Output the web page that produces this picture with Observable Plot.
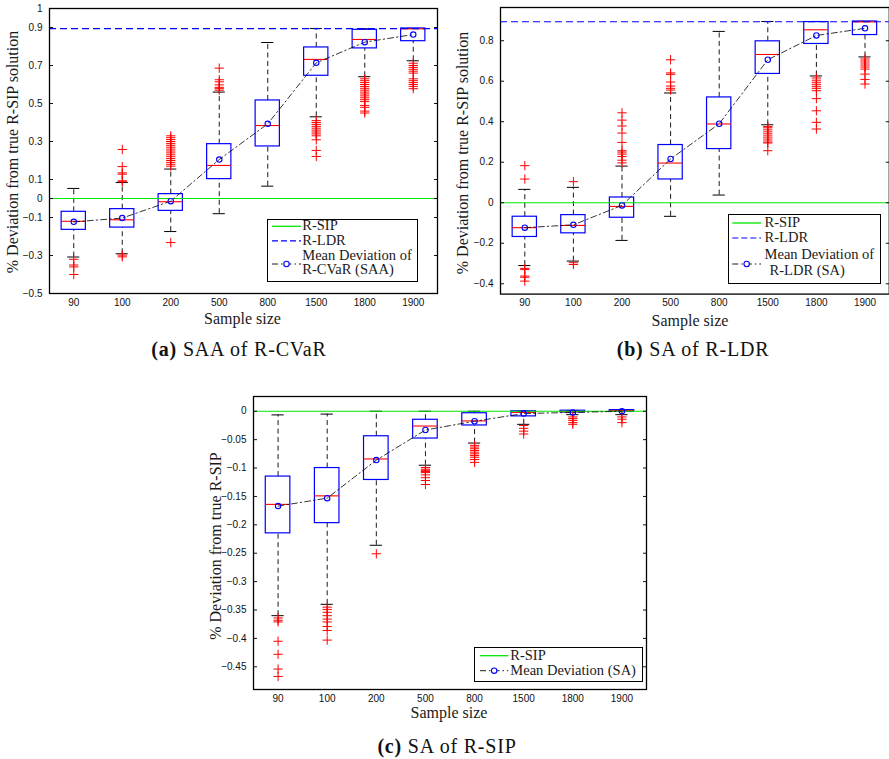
<!DOCTYPE html>
<html><head><meta charset="utf-8">
<script src="https://cdn.jsdelivr.net/npm/d3@7"></script>
<script src="https://cdn.jsdelivr.net/npm/@observablehq/plot@0.6"></script>
<style>
body{margin:0;background:#fff;}
#root{position:relative;width:889px;height:759px;overflow:hidden;font-family:"Liberation Serif","DejaVu Serif",serif;color:#1a1a1a;background:#fff;}
.ylab{position:absolute;white-space:nowrap;font-size:16px;line-height:16px;transform:translate(-50%,-50%) rotate(-90deg);}
.xlab{position:absolute;white-space:nowrap;font-size:16px;line-height:16px;transform:translate(-50%,-50%);}
.cap{position:absolute;white-space:nowrap;font-size:20px;line-height:20px;letter-spacing:0.8px;transform:translate(-50%,-50%);color:#111;}
.legend{position:absolute;box-sizing:border-box;border:1.4px solid #000;background:#fff;}
.legend .t{position:absolute;white-space:nowrap;font-size:14.5px;line-height:13px;}
</style></head><body><div id="root"></div>
<script>
// ---------- data ----------
const sampleSizes = ["90","100","200","500","800","1500","1800","1900"];
const sipLevel = [0];
const ldrLevel = [0.894];

// (a) SAA of R-CVaR
const aHi   = [0.053, 0.084, 0.155, 0.56, 0.821, 0.895, 0.893, 0.895];
const aQ3   = [-0.07, -0.056, 0.023, 0.286, 0.516, 0.795, 0.888, 0.895];
const aMed  = [-0.12, -0.112, -0.017, 0.174, 0.384, 0.732, 0.837, 0.893];
const aQ1   = [-0.165, -0.153, -0.065, 0.102, 0.274, 0.646, 0.79, 0.828];
const aLo   = [-0.308, -0.291, -0.174, -0.08, 0.065, 0.43, 0.641, 0.725];
const aMean = [-0.123, -0.103, -0.014, 0.205, 0.393, 0.714, 0.823, 0.863];
const aOut = [
  [-0.32, -0.35, -0.36, -0.40],
  [0.258, 0.168, 0.135, 0.128, 0.093, 0.088, -0.298, -0.307],
  [0.33,0.32,0.31,0.30,0.29,0.28,0.27,0.26,0.25,0.24,0.23,0.22,0.21,0.20,0.19,0.18,0.17,-0.232],
  [0.686, 0.625, 0.614, 0.598, 0.585, 0.578, 0.57],
  [],
  [0.41,0.40,0.39,0.38,0.37,0.36,0.35,0.34,0.33,0.309,0.253,0.221],
  [0.63,0.62,0.61,0.60,0.59,0.58,0.57,0.56,0.55,0.54,0.53,0.52,0.51,0.49,0.48,0.46,0.45],
  [0.712,0.70,0.69,0.68,0.67,0.66,0.63,0.62,0.61,0.60,0.59,0.578]
];
const aTicks = [1, 0.9, 0.7, 0.5, 0.3, 0.1, 0, -0.1, -0.3, -0.5];

// (b) SA of R-LDR
const bHi   = [0.066, 0.076, 0.181, 0.542, 0.846, 0.895, 0.895, 0.895];
const bQ3   = [-0.069, -0.061, 0.026, 0.285, 0.52, 0.797, 0.892, 0.895];
const bMed  = [-0.123, -0.112, -0.018, 0.196, 0.389, 0.732, 0.854, 0.893];
const bQ1   = [-0.169, -0.151, -0.074, 0.115, 0.265, 0.636, 0.784, 0.828];
const bLo   = [-0.31, -0.288, -0.186, -0.067, 0.038, 0.385, 0.626, 0.72];
const bMean = [-0.123, -0.109, -0.013, 0.216, 0.39, 0.706, 0.826, 0.861];
const bOut = [
  [0.183, 0.117, -0.324, -0.33, -0.362, -0.368, -0.387],
  [0.104, -0.296, -0.305],
  [0.444,0.408,0.379,0.344,0.298,0.257,0.25,0.24,0.228,0.21,0.197],
  [0.706,0.641,0.634,0.596,0.576,0.565,0.556],
  [],
  [0.376,0.37,0.36,0.35,0.34,0.33,0.32,0.31,0.30,0.295,0.257],
  [0.616,0.605,0.595,0.585,0.575,0.565,0.553,0.514,0.454,0.397,0.364],
  [0.71,0.70,0.69,0.68,0.67,0.66,0.635,0.609,0.586]
];
const bTicks = [0.8, 0.6, 0.4, 0.2, 0, -0.2, -0.4];

// (c) SA of R-SIP
const cHi   = [-0.0064, -0.005, 0, 0, 0, 0, 0.001, 0.002];
const cQ3   = [-0.115, -0.1, -0.044, -0.015, -0.0035, 0, 0.001, 0.002];
const cMed  = [-0.164, -0.149, -0.084, -0.026, -0.017, -0.002, -0.0005, 0.001];
const cQ1   = [-0.215, -0.197, -0.121, -0.048, -0.025, -0.009, -0.002, -0.001];
const cLo   = [-0.36, -0.34, -0.236, -0.095, -0.056, -0.023, -0.006, -0.006];
const cMean = [-0.167, -0.153, -0.086, -0.033, -0.0176, -0.004, -0.002, 0];
const cOut = [
  [-0.364,-0.368,-0.371,-0.405,-0.428,-0.454,-0.467],
  [-0.345,-0.349,-0.354,-0.36,-0.366,-0.371,-0.379,-0.386,-0.403],
  [-0.251],
  [-0.099,-0.102,-0.104,-0.106,-0.108,-0.112,-0.117,-0.122,-0.129],
  [-0.06,-0.063,-0.066,-0.069,-0.072,-0.075,-0.078,-0.081,-0.085,-0.09],
  [-0.025,-0.03,-0.035,-0.04],
  [-0.01,-0.013,-0.016,-0.02,-0.023],
  [-0.01,-0.014,-0.02]
];
const cTicks = [0, -0.05, -0.1, -0.15, -0.2, -0.25, -0.3, -0.35, -0.4, -0.45];

// ---------- drawing ----------
const root = document.getElementById("root");
const fmt = d3.format("");

function panel(cfg) {
  const rows = sampleSizes.map((s, i) => ({size: s, hi: cfg.hi[i], q3: cfg.q3[i], med: cfg.med[i], q1: cfg.q1[i], lo: cfg.lo[i], mean: cfg.mean[i]}));
  const outs = sampleSizes.flatMap((s, i) => cfg.out[i].map(v => ({size: s, v})));
  const mL = 45, mR = 8, mT = 8, mB = 24;
  const W = cfg.R - cfg.L, H = cfg.B - cfg.T;
  const bw = W / sampleSizes.length;
  const dash = {stroke: "#000", strokeWidth: 0.9, strokeDasharray: "5,3.5"};
  const cap = {stroke: "#000", strokeWidth: 1, insetLeft: bw * 3 / 8, insetRight: bw * 3 / 8};
  const svg = Plot.plot({
    width: W + mL + mR, height: H + mT + mB,
    marginLeft: mL, marginRight: mR, marginTop: mT, marginBottom: mB,
    style: {fontFamily: "Liberation Sans, Arial, sans-serif", fontSize: "10px", color: "#111", background: "transparent", overflow: "visible"},
    x: {type: "band", domain: sampleSizes, padding: 0, round: false},
    y: {domain: cfg.domain},
    marks: [
      Plot.ruleX(rows, {x: "size", y1: "q3", y2: "hi", ...dash}),
      Plot.ruleX(rows, {x: "size", y1: "lo", y2: "q1", ...dash}),
      Plot.tickY(rows, {x: "size", y: "hi", ...cap}),
      Plot.tickY(rows, {x: "size", y: "lo", ...cap}),
      Plot.barY(rows, {x: "size", y1: "q1", y2: "q3", fill: "none", stroke: "#0000ff", strokeWidth: 1.2, insetLeft: bw / 4, insetRight: bw / 4}),
      Plot.tickY(rows, {x: "size", y: "med", stroke: "#ff0000", strokeWidth: 1.1, insetLeft: bw / 4, insetRight: bw / 4}),
      Plot.dot(outs, {x: "size", y: "v", symbol: "plus", r: 3.1, stroke: "#ff0000", strokeWidth: 1}),
      Plot.ruleY(sipLevel, {stroke: "#00e800", strokeWidth: 1.2}),
      cfg.ldr ? Plot.ruleY(ldrLevel, {stroke: "#0000ff", strokeWidth: 1.1, strokeDasharray: "7,4"}) : null,
      Plot.line(rows, {x: "size", y: "mean", stroke: "#000", strokeWidth: 0.8, strokeDasharray: "6,3,1.5,3"}),
      Plot.dot(rows, {x: "size", y: "mean", r: 2.7, stroke: "#0000ff", fill: "none", strokeWidth: 1.1}),
      Plot.axisX({tickSize: 0, tickPadding: 5, label: null}),
      Plot.axisY({ticks: cfg.ticks, tickSize: 0, tickPadding: 7, tickFormat: fmt, label: null}),
      Plot.axisY({ticks: cfg.ticks, tickSize: -4, tickFormat: () => "", label: null}),
      Plot.axisY({ticks: cfg.ticks, anchor: "right", tickSize: -4, tickFormat: () => "", label: null}),
      Plot.frame({stroke: "#000", strokeWidth: 1.3})
    ]
  });
  svg.style.position = "absolute";
  svg.style.left = (cfg.L - mL) + "px";
  svg.style.top = (cfg.T - mT) + "px";
  root.appendChild(svg);
}

function addText(cls, text, x, y, html) {
  const d = document.createElement("div");
  d.className = cls;
  if (html) d.innerHTML = text; else d.textContent = text;
  d.style.left = x + "px"; d.style.top = y + "px";
  root.appendChild(d);
}

function legend(box, entries) {
  const d = document.createElement("div");
  d.className = "legend";
  d.style.left = box.x + "px"; d.style.top = box.y + "px";
  d.style.width = box.w + "px"; d.style.height = box.h + "px";
  const ns = "http://www.w3.org/2000/svg";
  const s = document.createElementNS(ns, "svg");
  s.setAttribute("width", box.w); s.setAttribute("height", box.h);
  s.style.position = "absolute"; s.style.left = "-1.4px"; s.style.top = "-1.4px";
  for (const e of entries) {
    if (e.kind) {
      const ln = document.createElementNS(ns, "line");
      ln.setAttribute("x1", box.s0); ln.setAttribute("x2", box.s1);
      ln.setAttribute("y1", e.sy); ln.setAttribute("y2", e.sy);
      if (e.kind === "sip") { ln.setAttribute("stroke", "#00e800"); ln.setAttribute("stroke-width", "1.3"); }
      if (e.kind === "ldr") { ln.setAttribute("stroke", "#0000ff"); ln.setAttribute("stroke-width", "1.1"); ln.setAttribute("stroke-dasharray", "6,3"); }
      if (e.kind === "mean") { ln.setAttribute("stroke", "#000"); ln.setAttribute("stroke-width", "0.9"); ln.setAttribute("stroke-dasharray", "6,3,1.5,3"); }
      s.appendChild(ln);
      if (e.kind === "mean") {
        const c = document.createElementNS(ns, "circle");
        c.setAttribute("cx", (box.s0 + box.s1) / 2); c.setAttribute("cy", e.sy); c.setAttribute("r", 2.7);
        c.setAttribute("fill", "#fff"); c.setAttribute("stroke", "#0000ff"); c.setAttribute("stroke-width", "1.1");
        s.appendChild(c);
      }
    }
    if (e.text) {
      const t = document.createElement("div");
      t.className = "t"; t.textContent = e.text;
      t.style.left = (e.tx - 1.4) + "px"; t.style.top = (e.ty - 6.5 - 1.4) + "px";
      d.appendChild(t);
    }
  }
  d.appendChild(s);
  root.appendChild(d);
}

// Panel (a)
panel({L: 48.7, R: 436.7, T: 8.3, B: 293.3, domain: [-0.5, 1], ticks: aTicks, ldr: true,
  hi: aHi, q3: aQ3, med: aMed, q1: aQ1, lo: aLo, mean: aMean, out: aOut});
// Panel (b)
panel({L: 500, R: 888.8, T: 6.7, B: 293.3, domain: [-0.451, 0.964], ticks: bTicks, ldr: true,
  hi: bHi, q3: bQ3, med: bMed, q1: bQ1, lo: bLo, mean: bMean, out: bOut});
// Panel (c)
panel({L: 252.7, R: 645.7, T: 396, B: 689, domain: [-0.49, 0.026], ticks: cTicks, ldr: false,
  hi: cHi, q3: cQ3, med: cMed, q1: cQ1, lo: cLo, mean: cMean, out: cOut});

// axis titles
addText("ylab", "% Deviation from true R-SIP solution", 13, 152);
addText("ylab", "% Deviation from true R-SIP solution", 463, 153);
addText("ylab", "% Deviation from true R-SIP", 216, 546);
addText("xlab", "Sample size", 242.5, 318.5);
addText("xlab", "Sample size", 690, 321);
addText("xlab", "Sample size", 449, 712.5);

// captions
addText("cap", "<b>(a)</b> SAA of R-CVaR", 239, 349, true);
addText("cap", "<b>(b)</b> SA of R-LDR", 693, 349, true);
addText("cap", "<b>(c)</b> SA of R-SIP", 447, 746, true);

// legends
legend({x: 266.7, y: 219, w: 151.6, h: 63.3, s0: 6, s1: 35}, [
  {kind: "sip", sy: 7.3, text: "R-SIP", tx: 36, ty: 7.3},
  {kind: "ldr", sy: 21.9, text: "R-LDR", tx: 36, ty: 21.9},
  {text: "Mean Deviation of", tx: 36, ty: 36.5},
  {kind: "mean", sy: 45, text: "R-CVaR (SAA)", tx: 36, ty: 51.2}
]);
legend({x: 727.7, y: 214, w: 153.3, h: 70, s0: 5.3, s1: 34}, [
  {kind: "sip", sy: 9, text: "R-SIP", tx: 37.3, ty: 9},
  {kind: "ldr", sy: 24, text: "R-LDR", tx: 37.3, ty: 24},
  {text: "Mean Deviation of", tx: 37.3, ty: 40.7},
  {kind: "mean", sy: 50, text: "R-LDR (SA)", tx: 42.3, ty: 56.7}
]);
legend({x: 474, y: 647.3, w: 169.3, h: 34.4, s0: 6, s1: 34.3}, [
  {kind: "sip", sy: 8.7, text: "R-SIP", tx: 36.7, ty: 8.7},
  {kind: "mean", sy: 23.7, text: "Mean Deviation (SA)", tx: 36.7, ty: 23.7}
]);
</script></body></html>
